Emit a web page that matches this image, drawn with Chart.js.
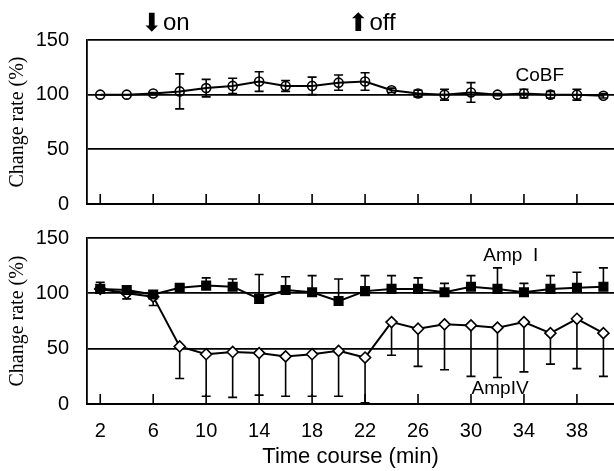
<!DOCTYPE html>
<html>
<head>
<meta charset="utf-8">
<script src="https://cdn.jsdelivr.net/npm/chart.js@4.4.1/dist/chart.umd.min.js"></script>
<style>
	body { margin: 0; background: #fff; }
	canvas { display: block; }
</style>
</head>
<body>
<canvas id="topChart" width="614" height="218"></canvas>
<canvas id="bottomChart" width="614" height="253"></canvas>
<script>
// Time points (min)
const timePoints = [2, 4, 6, 8, 10, 12, 14, 16, 18, 20, 22, 24, 26, 28, 30, 32, 34, 36, 38, 40];

// CoBF (mean, +/- error)
const cobfMean = [100, 100, 101, 103, 106, 108, 112, 108, 108, 111, 112, 104, 101, 100, 102, 100, 101, 100, 100, 99];
const cobfErr  = [0, 0, 1, 16, 8, 7, 9, 5, 8, 7, 8, 2, 3, 5, 9, 1, 4, 3, 5, 2];

// Amp I (mean, upper error)
const ampIMean = [104, 103, 99, 105, 107, 106, 95, 103, 101, 93, 102, 104, 104, 101, 106, 104, 101, 104, 105, 106];
const ampIErr  = [6, 2, 2, 2, 7, 7, 22, 12, 15, 20, 14, 12, 10, 8, 10, 19, 8, 12, 14, 17];

// Amp IV (mean, lower error)
const ampIVMean = [104, 100, 97, 52, 45, 47, 46, 43, 45, 48, 42, 74, 68, 72, 71, 69, 74, 64, 77, 64];
const ampIVErr  = [2, 5, 8, 29, 38, 41, 38, 36, 38, 41, 41, 30, 34, 41, 46, 45, 45, 28, 45, 39];

// Tick labels
const xTickValues = [2, 6, 10, 14, 18, 22, 26, 30, 34, 38];
const yTickValues = [0, 50, 100, 150];

const sans = "'Liberation Sans', 'DejaVu Sans', sans-serif";
const serif = "'Liberation Serif', serif";

function toPoints(means) {
	return timePoints.map((t, i) => ({ x: t, y: means[i] }));
}

// error bars, drawn from the dataset's errors array
function drawErrors(chart, onTop) {
	let ctx = chart.ctx;
	chart.data.datasets.forEach((ds, di) => {
		if (!ds.errors || !!ds.errorOnTop !== onTop) return;
		let meta = chart.getDatasetMeta(di);
		let yScale = chart.scales[meta.yAxisID];
		ctx.save();
		ctx.strokeStyle = '#000';
		ctx.lineWidth = 1.6;
		meta.data.forEach((pt, i) => {
			let err = ds.errors[i];
			if (!err) return;
			let mean = ds.data[i].y;
			let x = pt.x;
			let ends = [];
			if (ds.errorDir !== 'down') ends.push(yScale.getPixelForValue(mean + err));
			if (ds.errorDir !== 'up') ends.push(yScale.getPixelForValue(mean - err));
			ends.forEach(yEnd => {
				ctx.beginPath();
				ctx.moveTo(x, pt.y);
				ctx.lineTo(x, yEnd);
				ctx.moveTo(x - 4.5, yEnd);
				ctx.lineTo(x + 4.5, yEnd);
				ctx.stroke();
			});
		});
		ctx.restore();
	});
}

const errorBarPlugin = {
	id: 'errorBars',
	beforeDatasetsDraw(chart) { drawErrors(chart, false); },
	afterDatasetsDraw(chart) { drawErrors(chart, true); }
};

// inward tick marks on the time axis + text labels
const decorPlugin = {
	id: 'decor',
	afterDraw(chart, args, opts) {
		let ctx = chart.ctx;
		let xs = chart.scales.x, ys = chart.scales.y;
		let area = chart.chartArea;
		ctx.save();
		ctx.strokeStyle = '#000';
		ctx.lineWidth = 1.6;
		xTickValues.forEach(v => {
			let px = xs.getPixelForValue(v);
			ctx.beginPath();
			ctx.moveTo(px, area.bottom);
			ctx.lineTo(px, area.bottom - 10);
			ctx.stroke();
		});
		ctx.fillStyle = '#000';
		ctx.textBaseline = 'middle';
		(opts.labels || []).forEach(l => {
			ctx.font = l.size + 'px ' + sans;
			ctx.textAlign = 'center';
			ctx.fillText(l.text, xs.getPixelForValue(l.x), ys.getPixelForValue(l.y));
		});
		(opts.arrows || []).forEach(a => {
			let px = xs.getPixelForValue(a.x);
			ctx.font = '25px ' + sans;
			ctx.textAlign = 'center';
			ctx.fillText(a.arrow, px, 24);
			ctx.font = '24px ' + sans;
			ctx.textAlign = 'left';
			ctx.fillText(a.text, px + 11, 23);
		});
		ctx.restore();
	}
};

function makeScales(showX) {
	return {
		x: {
			type: 'linear', min: 1, max: 40.8,
			afterBuildTicks: s => { s.ticks = xTickValues.map(v => ({ value: v })); },
			ticks: { display: showX, color: '#000', font: { family: sans, size: 20 }, padding: 7, maxRotation: 0 },
			grid: { display: false },
			border: { color: '#000', width: 2 },
			title: {
				display: showX, text: 'Time course (min)', color: '#000',
				font: { family: sans, size: 22 }, padding: { top: 0, bottom: 1 }
			},
			afterFit: s => { s.height = showX ? 67 : 14; }
		},
		y: {
			min: 0, max: 150,
			afterBuildTicks: s => { s.ticks = yTickValues.map(v => ({ value: v })); },
			ticks: { color: '#000', font: { family: sans, size: 20 }, padding: 18 },
			grid: { color: '#000', lineWidth: 1.8, drawTicks: false },
			border: { color: '#000', width: 1.8 },
			title: {
				display: true, text: 'Change rate (%)', color: '#000',
				font: { family: serif, size: 20 }, padding: { top: 6, bottom: 0 }
			},
			afterFit: s => { s.width = 87; s.paddingTop = 0; s.paddingBottom = 0; }
		}
	};
}

const baseLine = { borderColor: '#000', borderWidth: 2, tension: 0, pointBorderColor: '#000', pointBorderWidth: 1.6 };

new Chart(document.getElementById('topChart'), {
	type: 'line',
	data: {
		datasets: [Object.assign({}, baseLine, {
			label: 'CoBF',
			data: toPoints(cobfMean),
			errors: cobfErr, errorDir: 'both', errorOnTop: true,
			pointStyle: 'circle', pointRadius: 4.5,
			pointBackgroundColor: 'rgba(0,0,0,0)'
		})]
	},
	options: {
		responsive: false, animation: false,
		layout: { autoPadding: false, padding: { top: 40, left: 0, right: 0, bottom: 0 } },
		plugins: {
			legend: { display: false }, tooltip: { enabled: false },
			decor: {
				labels: [{ text: 'CoBF', x: 35.2, y: 117, size: 19 }],
				arrows: [{ arrow: '⬇', text: 'on', x: 5.9 }, { arrow: '⬆', text: 'off', x: 21.5 }]
			}
		},
		scales: makeScales(false)
	},
	plugins: [errorBarPlugin, decorPlugin]
});

new Chart(document.getElementById('bottomChart'), {
	type: 'line',
	data: {
		datasets: [
			Object.assign({}, baseLine, {
				label: 'Amp I',
				data: toPoints(ampIMean),
				errors: ampIErr, errorDir: 'up',
				pointStyle: 'rect', pointRadius: 6,
				pointBackgroundColor: '#000'
			}),
			Object.assign({}, baseLine, {
				label: 'Amp IV',
				data: toPoints(ampIVMean),
				errors: ampIVErr, errorDir: 'down',
				pointStyle: 'rectRot', pointRadius: 5.5,
				pointBackgroundColor: '#fff'
			})
		]
	},
	options: {
		responsive: false, animation: false,
		layout: { autoPadding: false, padding: { top: 20, left: 0, right: 0, bottom: 0 } },
		plugins: {
			legend: { display: false }, tooltip: { enabled: false },
			decor: {
				labels: [
					{ text: 'Amp  I', x: 33.0, y: 134, size: 19 },
					{ text: 'AmpIV', x: 32.2, y: 13.5, size: 19 }
				]
			}
		},
		scales: makeScales(true)
	},
	plugins: [errorBarPlugin, decorPlugin]
});
</script>
</body>
</html>
